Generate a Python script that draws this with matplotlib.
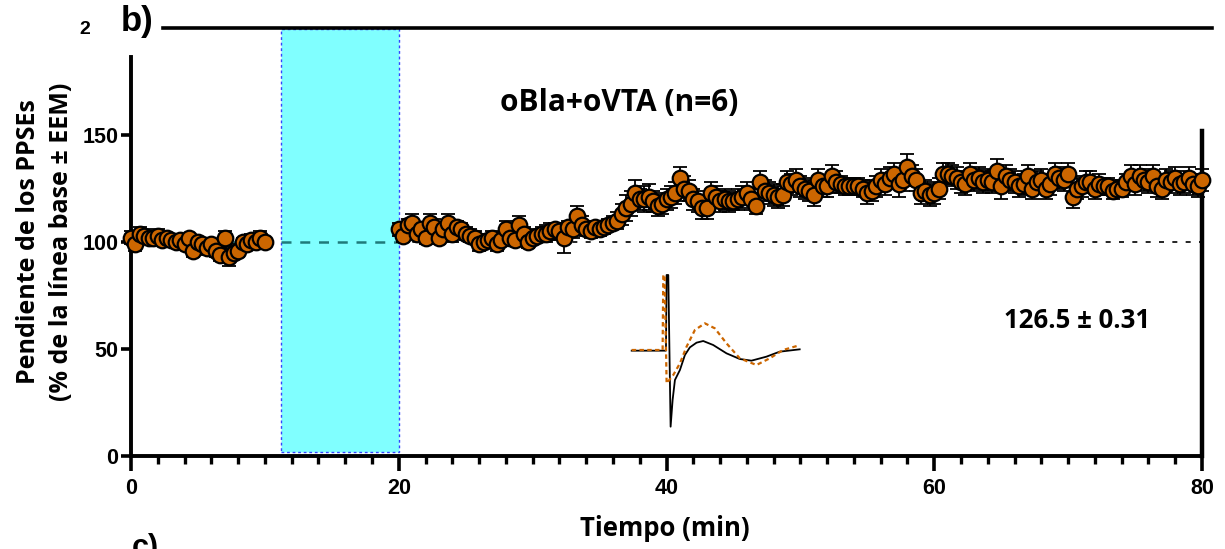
import numpy as np
import matplotlib
matplotlib.use("Agg")
import matplotlib.pyplot as plt
from matplotlib.patches import Rectangle
from matplotlib.lines import Line2D

# ---- data ----
# baseline, one point every 20 s from 0 to 10 min
base_slope = [102, 99, 104, 103, 102, 102, 103, 101, 102, 101, 100,
              101, 99, 102, 96, 100, 99, 97, 99, 96, 94, 102, 93, 95,
              96, 100, 99, 101, 100, 102, 100]
base_sem = [3, 3, 3, 3, 2, 2, 3, 2, 2, 2, 2, 2, 2, 2, 3, 2, 2, 3, 2, 3,
            3, 3, 4, 3, 3, 2, 2, 3, 3, 3, 2]

# after oBla+oVTA stimulation, one point every 20 s from 20 to 80 min
post_slope = [106, 103, 108, 109, 104, 106, 102, 109, 107, 102, 106, 109,
              104, 107, 106, 104, 103, 102, 99, 100, 101, 102, 99, 101,
              106, 102, 101, 108, 104, 100, 102, 103, 104, 104, 105, 106,
              105, 102, 107, 106, 112, 108, 106, 105, 107, 106, 107, 108,
              109, 110, 113, 116, 118, 123, 120, 120, 121, 119, 117, 118,
              120, 121, 123, 130, 125, 124, 120, 119, 116, 116, 123, 121,
              119, 120, 119, 119, 120, 121, 123, 120, 117, 128, 124, 123,
              122, 121, 122, 128, 127, 129, 126, 125, 124, 122, 129, 126,
              126, 131, 128, 127, 126, 126, 126, 126, 125, 123, 124, 126,
              129, 127, 130, 132, 127, 129, 135, 131, 129, 123, 124, 122,
              123, 125, 132, 132, 131, 130, 128, 127, 132, 129, 130, 128,
              129, 128, 133, 126, 131, 129, 128, 126, 127, 131, 125, 128,
              129, 125, 127, 132, 130, 129, 132, 121, 125, 126, 128, 128,
              125, 127, 126, 126, 124, 125, 125, 128, 131, 127, 131, 129,
              128, 131, 126, 125, 129, 128, 130, 127, 128, 130, 127, 126,
              129]
post_sem = [3, 3, 3,  4, 3, 3,  3, 4, 4,  3, 3, 4,  4, 3, 3,   # 20-24
            3, 3, 3,  3, 3, 3,  3, 3, 3,  4, 3, 3,  4, 3, 3,   # 25-29
            3, 3, 3,  4, 4, 3,  4, 7, 3,  4, 5, 4,  3, 3, 3,   # 30-34
            3, 3, 3,  3, 4, 5,  6, 6, 6,  5, 6, 6,  5, 5, 5,   # 35-39
            5, 5, 5,  5, 6, 5,  5, 5, 5,  5, 5, 5,  5, 5, 5,   # 40-44
            4, 5, 5,  5, 5, 4,  5, 5, 5,  5, 5, 5,  5, 5, 5,   # 45-49
            5, 5, 5,  5, 5, 5,  5, 5, 5,  4, 4, 4,  4, 4, 4,   # 50-54
            5, 5, 5,  5, 5, 5,  5, 6, 5,  6, 5, 5,  5, 5, 5,   # 55-59
            5, 5, 5,  5, 5, 5,  5, 5, 5,  5, 5, 5,  5, 5, 6,   # 60-64
            6, 5, 5,  5, 5, 5,  5, 5, 5,  5, 5, 5,  5, 5, 5,   # 65-69
            5, 5, 5,  5, 5, 5,  5, 5, 4,  4, 4, 4,  4, 4, 5,   # 70-74
            5, 5, 5,  5, 5, 5,  5, 5, 5,  5, 5, 5,  5, 5, 5,   # 75-79
            5]                                                  # 80

t_base = np.linspace(0, 10, len(base_slope))
t_post = np.linspace(20, 80, len(post_slope))

light_on = (11.2, 20)      # cyan block, min
baseline_level = 100

# representative EPSP traces (ms, mV)
trace_t_base = [-4.75, 0.4, 0.5, 0.75, 1.1, 1.4, 1.75, 2.5, 3.25, 4.0, 5.0,
                6.0, 7.5, 9.5, 11.5, 13.25, 15.5, 17.5, 20.5]
trace_v_base = [0, 0, 2.27, 2.27, -2.28, -1.48, -0.88, -0.58, -0.13, 0.10,
                0.24, 0.29, 0.17, -0.08, -0.25, -0.30, -0.18, -0.03, 0.04]
trace_t_post = [-4.75, -0.1, 0.0, 0.2, 0.5, 1.5, 2.5, 3.5, 4.75, 6.25, 7.75,
                9.5, 11.5, 14.0, 16.0, 18.0, 20.25]
trace_v_post = [0.02, 0.02, 2.27, 2.27, -0.98, -0.73, -0.38, 0.12, 0.62,
                0.82, 0.67, 0.22, -0.23, -0.43, -0.23, 0.02, 0.15]

ORANGE = "#cc6600"
label_font = ["Open Sans", "DejaVu Sans"]
tick_font = ["Liberation Sans", "DejaVu Sans"]

fig = plt.figure(figsize=(12.25, 5.49), dpi=100)
W, H = 1225, 549
ax = fig.add_axes([131 / W, 1 - 456 / H, 1071 / W, 399 / H])

# light stimulation block (extends above the axes)
ax.add_patch(Rectangle((light_on[0], 1.8), light_on[1] - light_on[0], 198,
                       facecolor="#80ffff", edgecolor="#3344ff", lw=1.0,
                       ls=(0, (2, 2)), clip_on=False, zorder=1))

# reference lines at 100 %
ax.hlines(baseline_level, 0, 20, colors="#1f7a7a", lw=1.8,
          linestyles=(0, (4, 3.5)), zorder=2)
ax.hlines(baseline_level, 20, 80, colors="black", lw=1.2,
          linestyles=(0, (3, 5)), zorder=2)

for t, y, e in [(t_base, base_slope, base_sem), (t_post, post_slope, post_sem)]:
    ax.errorbar(t, y, yerr=e, fmt="none", ecolor="black", elinewidth=1.3,
                capsize=5, capthick=1.3, zorder=3, clip_on=False)
    ax.plot(t, y, "o", ms=11.2, mfc=ORANGE, mec="black", mew=1.6,
            ls="none", zorder=4, clip_on=False)

ax.set_xlim(0, 80)
ax.set_ylim(0, 186.5)
ax.spines["top"].set_visible(False)
for s in ["left", "bottom"]:
    ax.spines[s].set_linewidth(2.8)
ax.spines["right"].set_linewidth(3.2)
ax.spines["right"].set_bounds(0, 152)

ax.set_yticks([0, 50, 100, 150])
ax.set_xticks([0, 20, 40, 60, 80])
ax.set_xticks(np.arange(0, 81, 2), minor=True)
ax.tick_params(axis="y", length=7, width=2.6, pad=2)
ax.tick_params(axis="x", which="major", length=11, width=2.6, pad=5)
ax.tick_params(axis="x", which="minor", length=5.5, width=2.4)
for lab in ax.get_xticklabels() + ax.get_yticklabels():
    lab.set_fontfamily(tick_font)
    lab.set_fontweight("bold")
    lab.set_fontsize(15.5)

# axis labels
fig.text(665 / W, 1 - 528 / H, "Tiempo (min)", ha="center",
         va="center", fontsize=18.5, fontweight="bold", family=label_font)
fig.text(45 / W, 1 - 242 / H,
         "Pendiente de los PPSEs\n(% de la línea base ± EEM)",
         ha="center", va="center", rotation=90, fontsize=18,
         fontweight="bold", family=label_font, linespacing=1.45)

# annotations
fig.text(619 / W, 1 - 103 / H, "oBla+oVTA (n=6)", ha="center", va="center",
         fontsize=21.5, fontweight="bold", family=label_font)
fig.text(1077 / W, 1 - 320 / H, "126.5 ± 0.31", ha="center", va="center",
         fontsize=18.5, fontweight="bold", family=label_font)
fig.text(137 / W, 1 - 22 / H, "b)", ha="center", va="center",
         fontsize=25, fontweight="bold", family=tick_font)
fig.text(85 / W, 1 - 29 / H, "2", ha="center", va="center",
         fontsize=14, fontweight="bold", family=tick_font)
fig.text(145 / W, 1 - 548 / H, "c)", ha="center", va="center",
         fontsize=22, fontweight="bold", family=tick_font)
fig.add_artist(Line2D([163 / W, 1212 / W], [1 - 28 / H, 1 - 28 / H],
                      color="black", lw=2.6))

# inset EPSP traces
ins = fig.add_axes([626.7 / W, 1 - 430 / H, 176.3 / W, 160 / H])
ins.plot(trace_t_base, trace_v_base, color="black", lw=1.3)
ins.plot(trace_t_post, trace_v_post, color=ORANGE, lw=1.6, ls=(0, (2, 1.5)))
ins.set_xlim(-5.5, 21)
ins.set_ylim(-2.38, 2.42)
ins.axis("off")

fig.savefig("out.png", dpi=100)
